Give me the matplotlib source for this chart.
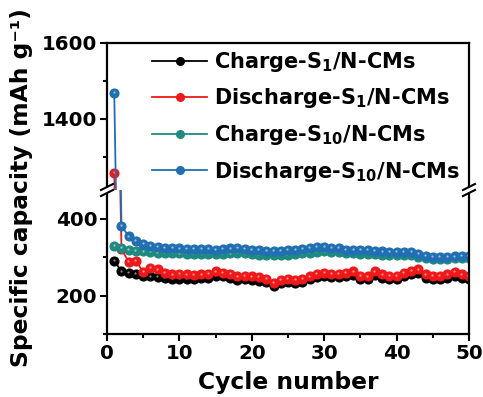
import matplotlib
matplotlib.use("Agg")
import matplotlib.pyplot as plt
from matplotlib.lines import Line2D
from matplotlib.patches import Rectangle
from matplotlib.ticker import MultipleLocator
from matplotlib.transforms import offset_copy

plt.rcParams['font.family'] = ['DejaVu Sans']
plt.rcParams['font.weight'] = 'bold'
plt.rcParams['mathtext.fontset'] = 'custom'
plt.rcParams['mathtext.rm'] = 'DejaVu Sans:bold'
plt.rcParams['mathtext.bf'] = 'DejaVu Sans:bold'
plt.rcParams['mathtext.it'] = 'DejaVu Sans:bold'
plt.rcParams['mathtext.default'] = 'bf'

cycles = list(range(1, 51))

charge_s1 = [291, 263, 259, 257, 252, 250, 248, 246, 243, 243,
             243, 244, 245, 246, 252, 250, 247, 241, 243, 241,
             239, 236, 226, 233, 236, 233, 235, 242, 248, 250,
             248, 248, 250, 254, 244, 242, 254, 247, 244, 244,
             250, 256, 259, 247, 244, 244, 247, 252, 247, 244]

discharge_s1 = [1258, 322, 287, 291, 261, 272, 268, 259, 255, 256,
                255, 254, 255, 256, 263, 260, 257, 250, 252, 250,
                248, 244, 233, 241, 244, 241, 243, 250, 256, 259,
                256, 256, 259, 263, 252, 250, 263, 255, 252, 252,
                259, 265, 268, 255, 252, 252, 255, 261, 255, 252]

charge_s10 = [330, 324, 319, 317, 315, 313, 312, 311, 311, 310,
              309, 309, 309, 308, 308, 309, 310, 311, 310, 308,
              307, 306, 305, 305, 307, 309, 310, 312, 314, 315,
              314, 313, 311, 310, 309, 309, 308, 307, 306, 306,
              305, 305, 301, 298, 295, 295, 296, 297, 297, 297]

discharge_s10 = [1468, 382, 354, 343, 334, 330, 326, 324, 324, 323,
                 322, 322, 321, 321, 320, 322, 323, 324, 322, 320,
                 318, 317, 316, 316, 318, 320, 321, 324, 326, 326,
                 325, 324, 320, 319, 319, 319, 317, 315, 314, 314,
                 313, 313, 308, 304, 300, 300, 301, 302, 303, 303]

labels = ["Charge-S$_1$/N-CMs", "Discharge-S$_1$/N-CMs",
          "Charge-S$_{10}$/N-CMs", "Discharge-S$_{10}$/N-CMs"]
colors = ["#000000", "#f01818", "#1f8a80", "#1f6fb2"]
series = [charge_s1, discharge_s1, charge_s10, discharge_s10]

W, H = 483, 397
fig = plt.figure(figsize=(W / 100, H / 100), dpi=100)
xl, xr, yt, ym, yb = 107, 469, 43, 190, 334
L, R = xl / W, xr / W
T, M, B = 1 - yt / H, 1 - ym / H, 1 - yb / H
ax_top = fig.add_axes([L, M, R - L, T - M])
ax_bot = fig.add_axes([L, B, R - L, M - B])

handles = []
for ax in (ax_top, ax_bot):
    for s, c, lab in zip(series, colors, labels):
        ln, = ax.plot(cycles, s, color=c, lw=1.3, marker='o', ms=6.3,
                      mec=c, mfc=c, label=lab, clip_on=True)
        hl = offset_copy(ax.transData, fig=fig, x=-0.4, y=0.6, units='points')
        ax.plot(cycles, s, ls='none', marker='o', ms=1.6, mfc='white',
                mec='none', alpha=0.55, transform=hl)
        if ax is ax_top:
            handles.append(ln)
    ax.set_xlim(0, 50)
    for sp in ax.spines.values():
        sp.set_linewidth(1.6)
    ax.tick_params(axis='y', which='major', direction='out', length=5,
                   width=1.5, labelsize=14.3, right=False, pad=2)
    ax.tick_params(axis='y', which='minor', direction='out', length=3,
                   width=1.5, right=False)
    ax.yaxis.set_major_locator(MultipleLocator(200))
    ax.yaxis.set_minor_locator(MultipleLocator(100))

ax_top.set_ylim(1213, 1600)
ax_bot.set_ylim(100, 475)
ax_top.spines['bottom'].set_visible(False)
ax_bot.spines['top'].set_visible(False)
ax_top.tick_params(axis='x', which='both', bottom=False, top=False,
                   labelbottom=False)
ax_bot.xaxis.set_major_locator(MultipleLocator(10))
ax_bot.xaxis.set_minor_locator(MultipleLocator(5))
ax_bot.tick_params(axis='x', which='major', direction='out', length=5,
                   width=1.5, labelsize=14.3, top=False, pad=2)
ax_bot.tick_params(axis='x', which='minor', direction='out', length=3,
                   width=1.5, top=False)
ax_bot.set_xlabel("Cycle number", fontsize=16.8, fontweight='bold', labelpad=6)

fig.text(22 / W, 1 - 188 / H, "Specific capacity (mAh g\u207b\u00b9)",
         rotation=90, ha='center', va='center', fontsize=16.8, fontweight='bold')

leg = ax_top.legend(handles=handles, loc='upper left',
                    bbox_to_anchor=(152 / W, 1 - 50 / H),
                    bbox_transform=fig.transFigure, frameon=False,
                    fontsize=15.0, handlelength=2.65, handletextpad=0.33,
                    labelspacing=0.6, borderpad=0, borderaxespad=0)
for lh in leg.legend_handles:
    lh.set_markersize(5.5)

# break marks
for xp in (xl, xr):
    fig.add_artist(Rectangle(((xp - 6) / W, 1 - (ym + 3) / H), 12 / W, 6 / H,
                             transform=fig.transFigure, facecolor='white',
                             edgecolor='none', zorder=10))
    for dy in (-3, 3):
        x0, x1 = xp - 6, xp + 6
        y0, y1 = ym + dy + 3, ym + dy - 3
        fig.add_artist(Line2D([x0 / W, x1 / W], [1 - y0 / H, 1 - y1 / H],
                              transform=fig.transFigure, color='black',
                              lw=1.5, zorder=11))

fig.savefig("out.png", dpi=100)
